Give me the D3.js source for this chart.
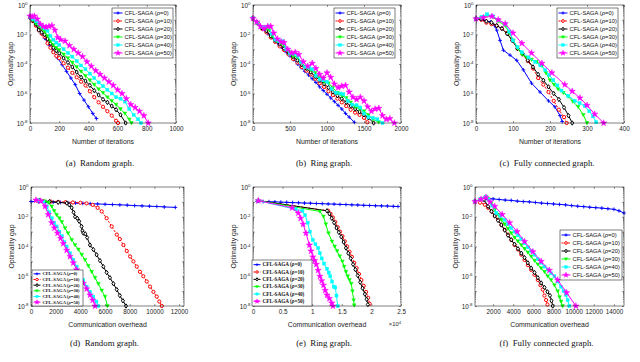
<!DOCTYPE html>
<html>
<head>
<meta charset="utf-8">
<script src="https://cdn.jsdelivr.net/npm/d3@7"></script>
<style>
  body { margin: 0; background: #fff; }
  svg { display: block; }
</style>
</head>
<body>
<div id="chart"></div>
<script>
// every point is [x, log10(optimality gap)]
var rhoValues = [0, 10, 20, 30, 40, 50];
var methodName = "CFL-SAGA";

// (a) random graph, iterations
var randIter0 = [[0,-0.8],[20,-1.0],[40,-1.3],[60,-1.6],[80,-1.95],[100,-2.25],[130,-2.7],[160,-3.15],[190,-3.6],[220,-4.05],[250,-4.5],[280,-4.95],[310,-5.4],[340,-6.0],[370,-6.45],[400,-6.9],[430,-7.35],[455,-7.7]];
var randIter10 = [[0,-0.8],[20,-1.1],[40,-1.4],[60,-1.7],[80,-1.95],[100,-2.15],[120,-2.6],[140,-2.9],[160,-3.2],[180,-3.45],[200,-3.6],[230,-3.95],[260,-4.25],[290,-4.6],[320,-4.9],[350,-5.2],[380,-5.45],[410,-5.85],[440,-6.25],[470,-6.6],[500,-6.9],[530,-7.2],[560,-7.5],[590,-7.85],[603,-8.0]];
var randIter20 = [[0,-0.85],[20,-1.05],[40,-1.3],[60,-1.7],[80,-1.85],[100,-2.0],[120,-2.3],[140,-2.6],[160,-2.9],[180,-3.1],[200,-3.27],[230,-3.6],[260,-3.9],[290,-4.2],[320,-4.55],[350,-4.9],[380,-5.15],[410,-5.45],[440,-5.8],[470,-6.1],[500,-6.4],[530,-6.6],[560,-6.85],[590,-7.1],[620,-7.45],[655,-8.0]];
var randIter30 = [[0,-0.8],[20,-1.0],[40,-1.25],[60,-1.45],[80,-1.6],[100,-1.8],[120,-2.1],[140,-2.45],[160,-2.7],[180,-2.9],[200,-3.05],[230,-3.35],[260,-3.6],[290,-3.9],[320,-4.2],[350,-4.5],[380,-4.8],[410,-5.1],[440,-5.4],[470,-5.7],[500,-5.95],[530,-6.25],[560,-6.5],[590,-6.75],[620,-7.05],[650,-7.35],[680,-7.75],[695,-8.0]];
var randIter40 = [[0,-0.8],[20,-0.95],[40,-1.1],[60,-1.25],[80,-1.4],[100,-1.6],[120,-1.75],[140,-2.1],[160,-2.35],[180,-2.55],[200,-2.7],[230,-3.0],[260,-3.25],[290,-3.5],[320,-3.8],[350,-4.1],[380,-4.35],[410,-4.65],[440,-4.95],[470,-5.25],[500,-5.5],[530,-5.75],[560,-6.0],[590,-6.25],[620,-6.35],[650,-6.55],[680,-7.05],[710,-7.45],[740,-7.75],[760,-8.0]];
var randIter50 = [[0,-0.75],[15,-0.8],[30,-0.75],[50,-0.95],[70,-1.3],[90,-1.45],[110,-1.5],[130,-1.45],[150,-1.4],[170,-1.7],[190,-2.2],[210,-2.35],[240,-2.45],[270,-2.75],[300,-3.0],[330,-3.25],[360,-3.5],[390,-3.85],[420,-4.15],[450,-4.45],[480,-4.7],[510,-4.95],[540,-5.2],[570,-5.45],[600,-5.75],[630,-6.0],[660,-6.35],[690,-6.75],[720,-6.95],[750,-7.2],[780,-7.5],[810,-8.0]];

// (b) ring graph, iterations
var ringIter0 = [[0,-0.9],[50,-1.15],[100,-1.4],[150,-1.65],[200,-1.95],[250,-2.2],[300,-2.45],[350,-2.7],[400,-2.95],[450,-3.2],[500,-3.45],[550,-3.7],[600,-4.0],[650,-4.25],[700,-4.5],[750,-4.75],[800,-5.0],[850,-5.25],[900,-5.55],[950,-5.8],[1000,-6.05],[1050,-6.3],[1100,-6.55],[1150,-6.8],[1200,-7.05],[1250,-7.35],[1300,-7.6],[1370,-7.95]];
var ringIter10 = [[0,-0.9],[60,-1.25],[120,-1.6],[180,-1.85],[240,-2.2],[300,-2.5],[360,-2.8],[420,-3.05],[480,-3.35],[540,-3.65],[600,-3.9],[660,-4.2],[720,-4.45],[780,-4.7],[840,-5.0],[900,-5.3],[960,-5.55],[1020,-5.85],[1080,-6.1],[1140,-6.35],[1200,-6.6],[1260,-6.85],[1320,-7.1],[1380,-7.3],[1440,-7.45],[1500,-7.65],[1545,-7.95]];
var ringIter20 = [[0,-0.9],[60,-1.2],[120,-1.55],[180,-1.75],[240,-2.1],[300,-2.4],[360,-2.65],[420,-2.95],[480,-3.25],[540,-3.5],[600,-3.75],[660,-4.05],[720,-4.3],[780,-4.55],[840,-4.85],[900,-5.1],[960,-5.35],[1020,-5.6],[1080,-5.9],[1140,-6.15],[1200,-6.35],[1260,-6.6],[1320,-6.85],[1380,-7.05],[1440,-7.25],[1500,-7.45],[1560,-7.65],[1630,-8.0]];
var ringIter30 = [[0,-0.9],[60,-1.2],[120,-1.5],[180,-1.6],[220,-1.7],[260,-2.1],[320,-2.45],[380,-2.6],[420,-2.75],[480,-3.15],[540,-3.45],[600,-3.55],[660,-3.9],[720,-4.25],[780,-4.4],[840,-4.6],[900,-4.95],[960,-5.2],[1020,-5.3],[1080,-5.6],[1140,-5.95],[1200,-6.15],[1260,-6.3],[1320,-6.6],[1380,-6.9],[1440,-7.05],[1500,-7.2],[1560,-7.45],[1620,-7.75],[1700,-7.95]];
var ringIter40 = [[0,-0.9],[60,-1.2],[120,-1.5],[170,-1.5],[210,-1.45],[250,-1.95],[300,-2.35],[350,-2.45],[400,-2.45],[450,-3.0],[500,-3.3],[550,-3.3],[600,-3.45],[650,-3.9],[700,-4.2],[760,-4.25],[800,-4.35],[850,-4.8],[900,-5.05],[950,-5.1],[1000,-5.2],[1060,-5.7],[1120,-5.95],[1180,-6.0],[1220,-6.05],[1280,-6.5],[1340,-6.75],[1400,-6.8],[1450,-6.95],[1500,-7.35],[1560,-7.6],[1620,-7.65],[1680,-7.75],[1750,-8.0]];
var ringIter50 = [[0,-0.9],[50,-1.15],[100,-1.45],[150,-1.6],[200,-1.45],[240,-1.45],[280,-1.9],[330,-2.3],[380,-2.5],[420,-2.55],[470,-3.0],[520,-3.25],[570,-3.2],[620,-3.35],[680,-3.85],[740,-4.15],[800,-3.95],[850,-4.3],[900,-4.7],[950,-4.95],[1000,-4.6],[1050,-4.9],[1100,-5.35],[1150,-5.6],[1200,-5.5],[1250,-5.45],[1300,-5.9],[1350,-6.25],[1400,-6.4],[1450,-6.25],[1500,-6.5],[1550,-6.9],[1600,-7.2],[1650,-7.05],[1700,-7.0],[1750,-7.5],[1800,-7.75],[1850,-7.7],[1910,-8.0]];

// (c) fully connected graph, iterations
var fullIter0 = [[0,-0.93],[20,-1.0],[39,-1.15],[50,-1.4],[56,-1.7],[65,-2.4],[74,-3.07],[92,-3.4],[110,-3.75],[128,-4.4],[150,-5.3],[173,-5.9],[196,-6.5],[213,-6.9],[227,-7.5],[233,-7.9]];
var fullIter10 = [[0,-0.93],[14,-1.0],[28,-1.2],[42,-1.3],[56,-1.4],[70,-1.6],[84,-1.9],[98,-2.4],[112,-2.95],[126,-3.35],[140,-3.8],[154,-4.3],[168,-4.95],[182,-5.4],[196,-5.9],[210,-6.5],[224,-7.1],[238,-7.6],[245,-8.0]];
var fullIter20 = [[0,-0.93],[14,-0.95],[28,-1.1],[42,-1.2],[56,-1.4],[70,-1.6],[84,-1.95],[98,-2.4],[112,-2.95],[126,-3.3],[140,-3.75],[154,-4.2],[168,-4.7],[182,-5.1],[196,-5.55],[210,-6.0],[224,-6.4],[238,-6.95],[250,-7.5],[260,-8.0]];
var fullIter30 = [[0,-0.93],[15,-0.85],[30,-0.7],[45,-0.8],[60,-1.1],[79,-1.4],[90,-1.9],[101,-2.4],[112,-2.9],[124,-3.35],[137,-3.55],[150,-3.7],[164,-3.85],[178,-4.1],[189,-4.6],[200,-5.1],[211,-5.4],[222,-5.7],[236,-5.95],[249,-6.2],[262,-6.55],[276,-6.9],[290,-7.45],[300,-8.0]];
var fullIter40 = [[0,-0.93],[15,-0.8],[30,-0.63],[45,-0.75],[60,-1.0],[79,-1.27],[90,-1.8],[100,-2.4],[112,-2.85],[124,-3.2],[142,-3.55],[160,-3.86],[174,-4.1],[187,-4.4],[198,-4.75],[209,-5.1],[220,-5.45],[231,-5.8],[249,-6.15],[267,-6.5],[280,-6.65],[294,-6.85],[306,-7.2],[316,-7.55],[325,-7.95]];
var fullIter50 = [[0,-0.93],[20,-0.85],[43,-0.77],[60,-1.0],[79,-1.27],[100,-1.9],[124,-2.6],[150,-3.25],[178,-3.95],[205,-4.6],[240,-5.4],[260,-5.85],[281,-6.3],[300,-6.8],[321,-7.4],[345,-8.0]];

// (d) random graph, communication overhead
var randComm0 = [[0,-0.97],[600,-0.98],[1200,-1.0],[1800,-1.02],[2400,-1.04],[3000,-1.06],[3600,-1.08],[4200,-1.1],[4800,-1.12],[5400,-1.14],[6000,-1.16],[6600,-1.18],[7200,-1.2],[7800,-1.22],[8400,-1.25],[9000,-1.27],[9600,-1.29],[10200,-1.31],[10800,-1.34],[11700,-1.37]];
var randComm10 = [[450,-0.9],[1000,-0.95],[1600,-0.98],[2200,-1.0],[2800,-1.02],[3400,-1.04],[4000,-1.06],[4500,-1.1],[5000,-1.2],[5400,-1.4],[5730,-1.64],[6130,-2.1],[6540,-2.65],[6950,-3.2],[7200,-3.5],[7490,-3.9],[7760,-4.3],[8030,-4.67],[8300,-5.0],[8570,-5.35],[8830,-5.7],[9100,-6.0],[9380,-6.35],[9650,-6.7],[9920,-7.05],[10190,-7.37],[10400,-7.7],[10600,-8.0]];
var randComm20 = [[700,-0.9],[1500,-0.98],[2200,-1.03],[2900,-1.08],[3100,-1.2],[3300,-1.4],[3450,-1.7],[3570,-2.0],[3750,-2.1],[3900,-2.3],[4100,-2.65],[4170,-2.95],[4240,-3.1],[4400,-3.15],[4550,-3.4],[4780,-3.9],[5050,-4.2],[5320,-4.56],[5590,-4.95],[5860,-5.35],[6130,-5.75],[6400,-6.1],[6680,-6.5],[6950,-6.9],[7200,-7.3],[7450,-7.65],[7700,-8.0]];
var randComm30 = [[500,-0.9],[1100,-0.95],[1400,-1.05],[1680,-1.3],[1880,-1.6],[2080,-1.87],[2300,-2.1],[2500,-2.35],[2760,-2.76],[3000,-3.1],[3300,-3.55],[3570,-3.9],[3840,-4.2],[4110,-4.55],[4380,-4.9],[4650,-5.3],[4920,-5.7],[5190,-6.1],[5460,-6.5],[5730,-6.95],[6000,-7.37],[6190,-8.0]];
var randComm40 = [[600,-0.9],[1000,-0.98],[1270,-1.3],[1480,-1.7],[1680,-2.1],[1880,-2.4],[2080,-2.65],[2300,-3.0],[2500,-3.3],[2700,-3.7],[2890,-4.0],[3160,-4.45],[3430,-4.9],[3700,-5.35],[3970,-5.8],[4240,-6.25],[4510,-6.7],[4780,-7.05],[5050,-7.37],[5300,-7.7],[5460,-8.0]];
var randComm50 = [[400,-0.88],[800,-0.95],[1140,-1.3],[1400,-1.85],[1680,-2.4],[1900,-2.75],[2150,-3.1],[2400,-3.45],[2620,-3.8],[2890,-4.25],[3160,-4.67],[3430,-5.1],[3700,-5.57],[3970,-6.0],[4240,-6.47],[4510,-6.85],[4780,-7.26],[5000,-7.6],[5190,-8.0]];

// (e) ring graph, communication overhead
var ringComm0 = [[700,-0.97],[1700,-0.98],[2700,-0.99],[3700,-1.0],[4700,-1.02],[5700,-1.03],[6700,-1.05],[7700,-1.06],[8700,-1.08],[9700,-1.09],[10700,-1.11],[11700,-1.12],[12700,-1.14],[13700,-1.15],[14700,-1.17],[15700,-1.18],[16700,-1.2],[17700,-1.21],[18700,-1.23],[19700,-1.24],[20700,-1.26],[21700,-1.27],[22700,-1.28],[23700,-1.3],[24500,-1.31]];
var ringComm10 = [[900,-0.92],[12700,-1.6],[13100,-1.8],[13500,-2.05],[13900,-2.35],[14300,-2.7],[14700,-3.0],[15100,-3.3],[15500,-3.65],[15900,-4.0],[16300,-4.35],[16700,-4.7],[17100,-5.1],[17500,-5.45],[17900,-5.85],[18300,-6.25],[18700,-6.65],[19100,-7.05],[19450,-7.45],[19700,-7.85]];
var ringComm20 = [[900,-0.92],[12500,-1.6],[12900,-1.8],[13300,-2.1],[13700,-2.4],[14100,-2.75],[14500,-3.05],[14900,-3.35],[15300,-3.7],[15700,-4.1],[16100,-4.45],[16500,-4.8],[16900,-5.2],[17300,-5.55],[17700,-5.95],[18100,-6.4],[18500,-6.8],[18900,-7.2],[19200,-7.55],[19400,-7.9]];
var ringComm30 = [[900,-0.92],[11300,-1.64],[11900,-1.98],[12300,-2.5],[12750,-3.1],[13350,-3.66],[13800,-4.0],[14200,-4.3],[14650,-4.65],[15100,-5.0],[15400,-5.35],[15700,-5.7],[16000,-6.0],[16300,-6.25],[16600,-6.5],[16800,-7.0],[17000,-7.6],[17100,-7.95]];
var ringComm40 = [[900,-0.92],[7200,-1.5],[8350,-1.6],[8800,-1.9],[9240,-2.4],[9600,-3.0],[10100,-3.55],[10550,-3.85],[11000,-4.1],[11300,-4.45],[11600,-4.8],[12000,-5.15],[12500,-5.5],[12800,-5.75],[13050,-6.0],[13350,-6.35],[13650,-6.7],[13900,-6.75],[14100,-7.3],[14300,-8.0]];
var ringComm50 = [[900,-0.92],[6600,-1.4],[7650,-1.75],[8050,-2.1],[8470,-2.5],[8940,-3.1],[9530,-3.9],[9800,-4.3],[10100,-4.7],[10400,-4.95],[10700,-5.2],[11000,-5.6],[11300,-6.0],[11600,-6.3],[11900,-6.6],[12200,-6.95],[12500,-7.26],[12900,-7.5],[13300,-7.8],[13500,-8.0]];

// (f) fully connected graph, communication overhead
var fullComm0 = [[200,-0.97],[700,-0.88],[1340,-0.76],[2000,-0.8],[2600,-0.84],[3200,-0.88],[3800,-0.9],[4400,-0.95],[5000,-0.98],[5600,-1.0],[6200,-1.04],[6800,-1.08],[7400,-1.11],[8000,-1.14],[8600,-1.17],[9200,-1.2],[9800,-1.25],[10400,-1.29],[11000,-1.32],[11600,-1.36],[12200,-1.39],[12800,-1.42],[13400,-1.46],[14000,-1.5],[14500,-1.6],[15000,-1.75]];
var fullComm10 = [[200,-0.97],[700,-1.05],[1180,-1.19],[1500,-1.4],[1840,-1.64],[2160,-1.95],[2490,-2.2],[2820,-2.55],[3150,-2.88],[3480,-3.2],[3800,-3.55],[4130,-3.9],[4470,-4.2],[4800,-4.55],[5120,-4.9],[5450,-5.25],[5780,-5.57],[6110,-5.9],[6440,-6.25],[6700,-6.6],[6930,-6.9],[7100,-7.3],[7260,-7.6],[7400,-7.9]];
var fullComm20 = [[1100,-0.85],[1500,-1.3],[1840,-1.64],[2160,-1.95],[2490,-2.25],[2820,-2.55],[3150,-2.9],[3480,-3.25],[3800,-3.55],[4130,-3.85],[4470,-4.15],[4800,-4.45],[5120,-4.75],[5450,-5.1],[5780,-5.45],[6110,-5.75],[6440,-6.1],[6770,-6.45],[7100,-6.75],[7400,-7.05],[7650,-7.3],[7800,-7.65],[7920,-8.0]];
var fullComm30 = [[200,-0.97],[800,-0.8],[1300,-0.65],[1500,-0.8],[1800,-1.1],[2160,-1.53],[2490,-1.85],[2820,-2.2],[3150,-2.5],[3480,-2.8],[3800,-3.1],[4140,-3.4],[4470,-3.65],[4800,-3.9],[5120,-4.15],[5450,-4.4],[5780,-4.67],[6110,-4.95],[6440,-5.2],[6770,-5.46],[7100,-5.7],[7430,-6.0],[7760,-6.25],[8090,-6.6],[8410,-7.0],[8600,-7.4],[8750,-7.7],[8900,-8.0]];
var fullComm40 = [[200,-0.97],[800,-0.8],[1300,-0.65],[1550,-0.85],[1900,-1.25],[2320,-1.75],[2700,-1.95],[3150,-2.2],[3480,-2.5],[3800,-2.75],[4140,-3.0],[4470,-3.25],[4800,-3.5],[5120,-3.78],[5450,-4.05],[5780,-4.3],[6110,-4.56],[6440,-4.85],[6770,-5.1],[7100,-5.35],[7430,-5.55],[7760,-5.8],[8090,-6.0],[8410,-6.35],[8740,-6.7],[9000,-7.0],[9240,-7.26],[9400,-7.6],[9570,-8.0]];
var fullComm50 = [[200,-0.97],[800,-0.82],[1300,-0.7],[1700,-1.0],[2160,-1.3],[2900,-1.85],[3640,-2.4],[4380,-3.0],[5120,-3.66],[5950,-4.35],[6770,-5.0],[7590,-5.6],[8410,-6.25],[9300,-7.1],[10220,-8.0]];

// tick labels
var ticksA = [0, 200, 400, 600, 800, 1000];
var ticksB = [0, 500, 1000, 1500, 2000];
var ticksC = [0, 100, 200, 300, 400];
var ticksD = [0, 2000, 4000, 6000, 8000, 10000, 12000];
var ticksE = [0, 5000, 10000, 15000, 20000, 25000];
var ticksF = [2000, 4000, 6000, 8000, 10000, 12000, 14000];
var gapDecades = [0, -1, -2, -3, -4, -5, -6, -7, -8];

var captions = ["(a)  Random graph.", "(b)  Ring graph.", "(c)  Fully connected graph.",
                "(d)  Random graph.", "(e)  Ring graph.", "(f)  Fully connected graph."];

var colors = ["#0000ff", "#ff0000", "#000000", "#00ff00", "#00ffff", "#ff00ff"];
var SANS = "'Liberation Sans', Arial, sans-serif";
var SERIF = "'Liberation Serif', 'Times New Roman', serif";

var panels = [
  {series:[randIter0,randIter10,randIter20,randIter30,randIter40,randIter50], xdom:[0,1000], ticks:ticksA,
   x0:30, x1:176, y0:5, y1:123, capY:166, xlabel:"Number of iterations", leg:{x:112, y:8, w:61, h:50, font:5.8, serif:false}},
  {series:[ringIter0,ringIter10,ringIter20,ringIter30,ringIter40,ringIter50], xdom:[0,2000], ticks:ticksB,
   x0:253, x1:401, y0:5, y1:123, capY:166, xlabel:"Number of iterations", leg:{x:334, y:8, w:61, h:50, font:5.8, serif:false}},
  {series:[fullIter0,fullIter10,fullIter20,fullIter30,fullIter40,fullIter50], xdom:[0,400], ticks:ticksC,
   x0:476, x1:624, y0:5, y1:123, capY:166, xlabel:"Number of iterations", leg:{x:557, y:8, w:61, h:50, font:5.8, serif:false}},
  {series:[randComm0,randComm10,randComm20,randComm30,randComm40,randComm50], xdom:[0,12400], ticks:ticksD,
   x0:31, x1:184, y0:187, y1:306, capY:346, xlabel:"Communication overhead", leg:{x:32, y:270, w:51, h:36, font:4.6, serif:true}},
  {series:[ringComm0,ringComm10,ringComm20,ringComm30,ringComm40,ringComm50], xdom:[0,25000], ticks:ticksE,
   x0:253, x1:401, y0:187, y1:306, capY:346, xlabel:"Communication overhead", leg:{x:252, y:260, w:60, h:46, font:5.2, serif:true},
   tickFmt:function(v){ return v / 10000; }, expNote:true},
  {series:[fullComm0,fullComm10,fullComm20,fullComm30,fullComm40,fullComm50], xdom:[200,15000], ticks:ticksF,
   x0:475, x1:624, y0:187, y1:306, capY:346, xlabel:"Communication overhead", leg:{x:560, y:230, w:62, h:50, font:5.8, serif:false}}
];

var svg = d3.select("#chart").append("svg")
  .attr("width", 640)
  .attr("height", 362)
  .style("background", "#fff");

// marker shapes, by series index
function marker(sel, i, cx, cy, s) {
  var c = colors[i], p;
  if (i === 0) {
    p = "M" + (cx - s) + "," + cy + "H" + (cx + s) + "M" + cx + "," + (cy - s) + "V" + (cy + s);
    sel.append("path").attr("d", p).attr("stroke", c).attr("stroke-width", 0.9).attr("fill", "none");
  } else if (i === 1) {
    sel.append("circle").attr("cx", cx).attr("cy", cy).attr("r", s * 0.85)
      .attr("fill", "#fff").attr("stroke", c).attr("stroke-width", 1);
  } else if (i === 2) {
    p = "M" + cx + "," + (cy - s * 1.15) + "L" + (cx + s * 0.8) + "," + cy + "L" + cx + "," + (cy + s * 1.15) + "L" + (cx - s * 0.8) + "," + cy + "Z";
    sel.append("path").attr("d", p).attr("fill", "#fff").attr("stroke", c).attr("stroke-width", 1);
  } else if (i === 3) {
    p = "M" + (cx - s) + "," + (cy - s * 0.75) + "L" + (cx + s) + "," + (cy - s * 0.75) + "L" + cx + "," + (cy + s) + "Z";
    sel.append("path").attr("d", p).attr("fill", c).attr("stroke", c).attr("stroke-width", 0.4);
  } else if (i === 4) {
    sel.append("rect").attr("x", cx - s * 0.8).attr("y", cy - s * 0.8).attr("width", s * 1.6).attr("height", s * 1.6)
      .attr("fill", c).attr("stroke", c).attr("stroke-width", 0.4);
  } else {
    sel.append("path").attr("d", d3.symbol().type(d3.symbolStar).size(s * s * 3.4)())
      .attr("transform", "translate(" + cx + "," + cy + ")")
      .attr("fill", c).attr("stroke", c).attr("stroke-width", 0.5);
  }
}

function supLabel(sel, e) {
  sel.text("10");
  sel.append("tspan").attr("dy", "-0.55em").attr("font-size", "4.3px").text(e);
}

panels.forEach(function(p, k) {
  var x = d3.scaleLinear().domain(p.xdom).range([p.x0, p.x1]);
  var y = d3.scaleLog().domain([1e-8, 1]).range([p.y1, p.y0]);
  var g = svg.append("g");

  var minor = [];
  gapDecades.forEach(function(e) {
    if (e > -8) for (var m = 2; m < 10; m++) minor.push(m * Math.pow(10, e - 1));
  });

  // ticks (inward, MATLAB box style)
  g.append("g").attr("transform", "translate(0," + p.y1 + ")")
    .call(d3.axisBottom(x).tickValues(p.ticks).tickSizeInner(-2).tickSizeOuter(0).tickPadding(3.5)
      .tickFormat(p.tickFmt || d3.format("d")));
  g.append("g").attr("transform", "translate(0," + p.y0 + ")")
    .call(d3.axisTop(x).tickValues(p.ticks).tickSizeInner(-2).tickSizeOuter(0).tickFormat(""));
  var yl = g.append("g").attr("transform", "translate(" + p.x0 + ",0)")
    .call(d3.axisLeft(y).tickValues(gapDecades.map(function(e) { return Math.pow(10, e); }))
      .tickSizeInner(-2).tickSizeOuter(0).tickPadding(2.5));
  g.append("g").attr("transform", "translate(" + p.x1 + ",0)")
    .call(d3.axisRight(y).tickValues(gapDecades.map(function(e) { return Math.pow(10, e); }))
      .tickSizeInner(-2).tickSizeOuter(0).tickFormat(""));
  g.append("g").attr("transform", "translate(" + p.x0 + ",0)")
    .call(d3.axisLeft(y).tickValues(minor).tickSizeInner(-1).tickSizeOuter(0).tickFormat(""));
  g.append("g").attr("transform", "translate(" + p.x1 + ",0)")
    .call(d3.axisRight(y).tickValues(minor).tickSizeInner(-1).tickSizeOuter(0).tickFormat(""));

  g.selectAll(".domain").remove();
  g.selectAll(".tick line").attr("stroke", "#000").attr("stroke-width", 0.4);
  g.selectAll("text").attr("font-family", SANS).attr("font-size", "6.3px").attr("fill", "#222");

  yl.selectAll(".tick text").each(function(d) {
    var e = Math.round(Math.log10(d));
    var t = d3.select(this);
    if (e % 2 !== 0) { t.text(""); return; }
    supLabel(t, e);
  });

  // series
  var line = d3.line().x(function(d) { return x(d[0]); }).y(function(d) { return y(Math.pow(10, d[1])); });
  p.series.forEach(function(s, i) {
    g.append("path").attr("d", line(s)).attr("fill", "none")
      .attr("stroke", colors[i]).attr("stroke-width", 1)
      .attr("stroke-dasharray", i === 1 ? "2.2,1.4" : null);
    var mg = g.append("g");
    s.forEach(function(d) {
      marker(mg, i, x(d[0]), y(Math.pow(10, d[1])), 1.9);
    });
  });

  // frame
  g.append("rect").attr("x", p.x0).attr("y", p.y0).attr("width", p.x1 - p.x0).attr("height", p.y1 - p.y0)
    .attr("fill", "none").attr("stroke", "#000").attr("stroke-width", 0.5);

  // legend
  var L = p.leg;
  var lg = svg.append("g");
  lg.append("rect").attr("x", L.x).attr("y", L.y).attr("width", L.w).attr("height", L.h)
    .attr("fill", "#fff").attr("stroke", "#000").attr("stroke-width", 0.5);
  var rowH = (L.h - 2) / rhoValues.length;
  var sample = L.serif ? 7 : 9;
  rhoValues.forEach(function(r, i) {
    var cy = L.y + 1 + rowH * (i + 0.5);
    lg.append("line").attr("x1", L.x + 1.5).attr("x2", L.x + 1.5 + sample).attr("y1", cy).attr("y2", cy)
      .attr("stroke", colors[i]).attr("stroke-width", 1).attr("stroke-dasharray", i === 1 ? "2,1.2" : null);
    marker(lg, i, L.x + 1.5 + sample / 2, cy, L.serif ? 1.4 : 1.6);
    var t = lg.append("text").attr("x", L.x + sample + 3.5).attr("y", cy).attr("dy", "0.35em")
      .attr("font-family", L.serif ? SERIF : SANS).attr("font-size", L.font + "px")
      .attr("font-weight", L.serif ? "bold" : "normal").attr("fill", "#111");
    t.append("tspan").text(methodName + " (");
    t.append("tspan").attr("font-style", "italic").text("ρ");
    t.append("tspan").text("=" + r + ")");
  });

  // axis labels
  var cx = (p.x0 + p.x1) / 2;
  svg.append("text").attr("x", cx).attr("y", p.y1 + 20.5).attr("text-anchor", "middle")
    .attr("font-family", SANS).attr("font-size", "6.9px").attr("fill", "#222").text(p.xlabel);
  svg.append("text").attr("transform", "translate(" + (p.x0 - 17) + "," + ((p.y0 + p.y1) / 2) + ") rotate(-90)")
    .attr("text-anchor", "middle").attr("font-family", SANS).attr("font-size", "6.9px").attr("fill", "#222")
    .text("Optimality gap");
  if (p.expNote) {
    var en = svg.append("text").attr("x", p.x1).attr("y", p.y1 + 20).attr("text-anchor", "end")
      .attr("font-family", SANS).attr("font-size", "5.8px").attr("fill", "#222").text("×10");
    en.append("tspan").attr("dy", "-0.55em").attr("font-size", "4.2px").text("4");
  }

  // caption
  svg.append("text").attr("x", cx - 3).attr("y", p.capY).attr("text-anchor", "middle")
    .attr("font-family", SERIF).attr("font-size", "8.8px").attr("fill", "#111")
    .attr("xml:space", "preserve").style("white-space", "pre").text(captions[k]);
});
</script>
</body>
</html>
